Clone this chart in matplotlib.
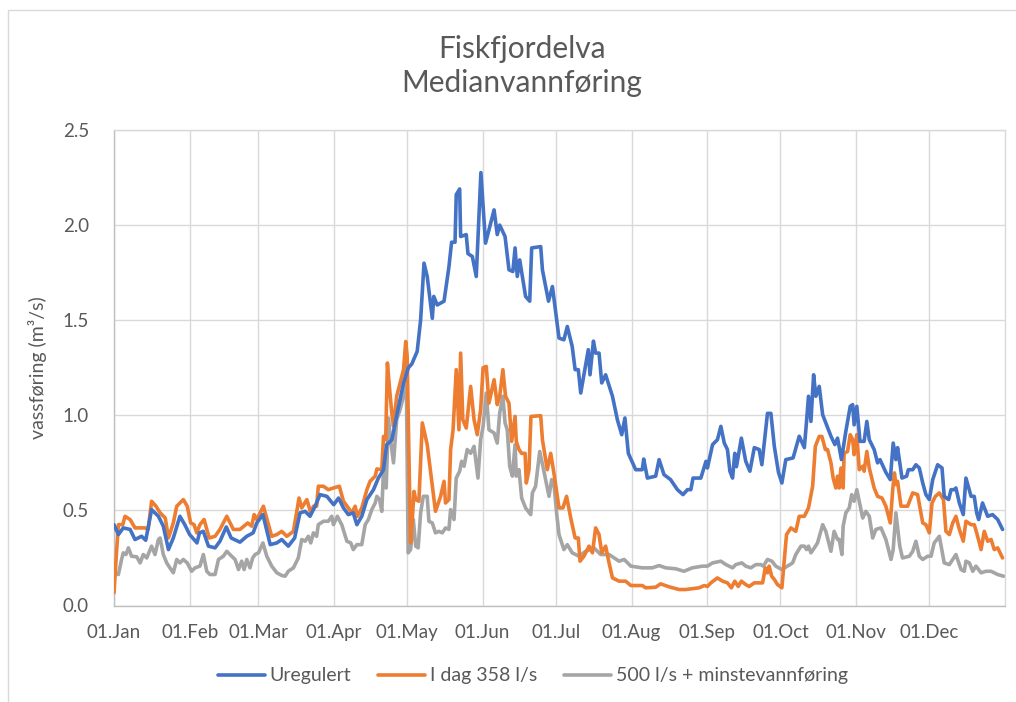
import matplotlib
matplotlib.use("Agg")
import matplotlib.pyplot as plt
from matplotlib.patches import Rectangle
import numpy as np

plt.rcParams['font.family'] = ['Lato', 'DejaVu Sans']

title = "Fiskfjordelva\nMedianvannføring"
ylabel = "vassføring (m³/s)"
month_days = [0, 31, 59, 90, 120, 151, 181, 212, 243, 273, 304, 334]
month_labels = ["01.Jan", "01.Feb", "01.Mar", "01.Apr", "01.May", "01.Jun",
                "01.Jul", "01.Aug", "01.Sep", "01.Oct", "01.Nov", "01.Dec"]
series_names = ["Uregulert", "I dag 358 l/s", "500 l/s + minstevannføring"]

# Uregulert (day of year, m3/s)
ureg_day = [0, 1.8, 3.8, 6.6, 8.6, 11.3, 13, 15.4, 18.2, 20.2, 22.3, 24.3, 27, 29, 31, 34, 35, 36.6, 38.7, 41.4,
            43.4, 46, 48, 51.6, 54.4, 57, 58.5, 61, 64, 66.7, 68.7, 71.4, 74, 76.2, 78.3, 80.3, 82.4, 84.4, 87.2, 90,
            92, 94, 96, 98, 99.5, 101.5, 103.6, 106.3, 108.3, 110.4, 111.7, 113.8, 116, 118.6, 120.6, 122, 124.2,
            125.6, 127, 128.3, 130.4, 131, 132.4, 135.2, 137.2, 138.3, 139.7, 140.2, 141.6, 142, 144.3, 145, 146.8,
            148.4, 150.3, 152.2, 153.6, 155.7, 157, 158, 160.2, 161.8, 163.4, 164.3, 165.2, 166.2, 168.6, 170.3,
            171.1, 174.8, 175.5, 178, 179.6, 182.3, 184.3, 185.7, 187.7, 188.9, 190.2, 191.2, 194.3, 195, 196.4,
            197.3, 198.7, 199.8, 201.4, 204.2, 206.2, 208, 209.3, 210.7, 213.7, 216.4, 217, 218.5, 221.9, 223.3,
            225.3, 228, 230.8, 233.1, 234.9, 236.3, 237.2, 240.4, 242.5, 243.1, 245.2, 247.2, 248.6, 250, 251.3,
            252.3, 253.4, 254.3, 255, 257, 258.8, 260.5, 262.3, 264.3, 265.4, 267.7, 269.1, 270.5, 272.2, 273.6,
            275.2, 278.2, 280.7, 282.8, 283.7, 284.5, 285.5, 286.6, 287.5, 288.9, 290.3, 291.6, 293.7, 295.3, 296.4,
            298, 299.8, 301.6, 302.6, 303.2, 304.3, 305.6, 307.3, 308.4, 309.4, 311.4, 312.8, 313.8, 316.2, 318,
            319.2, 320.3, 321, 322.8, 324.7, 325.4, 327.2, 328.5, 329.9, 331.3, 332.6, 334, 335.4, 337.4, 339.2,
            340.1, 341.9, 342.9, 344.2, 344.9, 346.3, 347.9, 349, 351.1, 352.4, 353.4, 354.2, 355.8, 357.9, 359.9,
            362, 364]
ureg_val = [0.425, 0.373, 0.408, 0.40, 0.347, 0.364, 0.343, 0.504, 0.469, 0.417, 0.294, 0.355, 0.469, 0.425, 0.373,
            0.329, 0.382, 0.39, 0.312, 0.303, 0.338, 0.413, 0.355, 0.333, 0.364, 0.382, 0.434, 0.478, 0.32, 0.329,
            0.347, 0.312, 0.355, 0.487, 0.495, 0.469, 0.522, 0.583, 0.574, 0.53, 0.565, 0.513, 0.478, 0.487, 0.425,
            0.469, 0.557, 0.609, 0.67, 0.714, 0.846, 0.87, 1.01, 1.17, 1.25, 1.27, 1.336, 1.50, 1.80, 1.73, 1.51,
            1.625, 1.58, 1.60, 1.78, 1.91, 1.91, 2.16, 2.19, 1.94, 1.95, 1.85, 1.835, 1.73, 2.276, 1.905, 1.975,
            2.08, 1.95, 2.0, 1.94, 1.765, 1.756, 1.88, 1.73, 1.817, 1.625, 1.60, 1.88, 1.887, 1.765, 1.60, 1.677,
            1.406, 1.397, 1.467, 1.362, 1.24, 1.24, 1.117, 1.345, 1.213, 1.39, 1.327, 1.327, 1.17, 1.213, 1.10,
            0.977, 0.898, 0.986, 0.80, 0.714, 0.714, 0.77, 0.67, 0.68, 0.767, 0.688, 0.662, 0.609, 0.583, 0.609,
            0.609, 0.67, 0.67, 0.758, 0.723, 0.846, 0.872, 0.942, 0.854, 0.82, 0.706, 0.67, 0.80, 0.73, 0.88, 0.758,
            0.706, 0.83, 0.82, 0.74, 1.01, 1.01, 0.837, 0.70, 0.644, 0.767, 0.776, 0.89, 0.83, 0.968, 1.10, 0.968,
            1.213, 1.10, 1.152, 1.003, 0.96, 0.89, 0.846, 0.88, 0.767, 0.916, 1.047, 1.056, 0.95, 1.047, 0.863,
            0.863, 0.968, 0.872, 0.82, 0.75, 0.767, 0.70, 0.662, 0.854, 0.767, 0.83, 0.67, 0.68, 0.714, 0.714, 0.74,
            0.723, 0.644, 0.583, 0.557, 0.662, 0.74, 0.723, 0.574, 0.557, 0.609, 0.609, 0.618, 0.539, 0.478, 0.67,
            0.574, 0.574, 0.487, 0.452, 0.539, 0.469, 0.478, 0.452, 0.40]

# I dag 358 l/s
idag_day = [0, 1.1, 1.8, 3.6, 4.5, 6.6, 8.6, 10.7, 12.7, 14, 15.4, 17.2, 18.9, 21, 22.3, 24.3, 25.7, 28.4, 30, 31.4,
            32.8, 33.9, 35.2, 36.9, 39, 41.4, 43.4, 46.2, 48.9, 51.6, 54.8, 56.4, 57.4, 58.5, 61.2, 64.6, 66.7, 68.7,
            70.8, 73.5, 75.8, 76.9, 79, 80.6, 81.7, 83, 83.7, 85.8, 87.8, 89.9, 92.3, 94, 96, 97.4, 98.8, 99.7,
            101.5, 103.6, 104.9, 107, 107.7, 109.7, 110.4, 111.3, 112, 112.8, 113.8, 114.5, 115.8, 117.9, 118.6,
            119.5, 120.1, 120.8, 121.5, 122.2, 122.9, 123.6, 124.9, 126.3, 128.3, 130.4, 131.7, 133.8, 135.2, 135.8,
            137.2, 137.9, 138.9, 140.2, 141.3, 142, 142.9, 144.3, 146.1, 147.5, 148.8, 150.2, 151.2, 152.5, 153.6,
            155.7, 157, 158, 159.3, 160.4, 161.8, 162.9, 164.3, 164.8, 165.9, 167, 168.4, 168.9, 170, 170.8, 174.8,
            175.5, 177.5, 178.9, 180.2, 182.3, 183.9, 185.4, 187.1, 188.9, 190.2, 190.9, 192.5, 194.6, 196, 197.3,
            198.7, 199.8, 201.4, 202.8, 204.2, 206.9, 209.6, 211.7, 216.4, 217.8, 221.9, 223.9, 227.4, 231.5,
            234.2, 239.7, 241.8, 243.1, 244.5, 247.2, 249.3, 251.3, 252.9, 254.3, 255.7, 257, 258.8, 260.2, 262.3,
            265.7, 266.8, 267.7, 268.4, 269.4, 270.5, 271.8, 273.6, 274.6, 275.5, 277.3, 279.3, 280.7, 282.8, 284.5,
            286.2, 287.3, 288.9, 290, 291.4, 292.3, 293.7, 294.6, 295.7, 296.4, 297.1, 297.8, 298.7, 299.1, 300.5,
            301.6, 302.6, 303.2, 304.3, 305.3, 306.7, 307.3, 308.4, 309.4, 311.4, 312.8, 314.6, 316.2, 318, 319,
            319.7, 320.3, 321, 322.4, 325.1, 327.2, 329.2, 331.3, 332.6, 334, 335.1, 336.5, 338.1, 339.8, 340.8,
            342.2, 343.6, 344.9, 346.3, 347.9, 349, 351.1, 352.4, 353.4, 355.2, 356.5, 357.9, 359.3, 360.6, 362, 364]
idag_val = [0.066, 0.294, 0.425, 0.425, 0.469, 0.452, 0.408, 0.408, 0.408, 0.40, 0.548, 0.522, 0.487, 0.46, 0.355,
            0.434, 0.522, 0.557, 0.522, 0.434, 0.425, 0.382, 0.425, 0.452, 0.355, 0.364, 0.40, 0.469, 0.40, 0.40,
            0.434, 0.417, 0.478, 0.452, 0.522, 0.364, 0.373, 0.39, 0.364, 0.39, 0.565, 0.513, 0.557, 0.487, 0.522,
            0.522, 0.627, 0.627, 0.609, 0.618, 0.627, 0.548, 0.513, 0.487, 0.522, 0.469, 0.513, 0.609, 0.653, 0.68,
            0.718, 0.714, 0.889, 0.872, 1.275, 1.152, 1.012, 0.942, 1.10, 1.204, 1.24, 1.388, 1.31, 0.80, 0.329,
            0.452, 0.60, 0.557, 0.548, 0.96, 0.846, 0.627, 0.495, 0.574, 0.653, 0.539, 0.557, 0.82, 0.924, 1.24,
            0.924, 1.327, 0.977, 0.933, 1.152, 0.977, 0.898, 1.03, 1.25, 1.257, 1.064, 1.187, 1.056, 1.10, 1.24,
            1.10, 1.064, 0.863, 0.994, 0.863, 0.82, 0.80, 0.80, 0.644, 0.714, 0.994, 0.998, 0.872, 0.714, 0.80,
            0.697, 0.513, 0.513, 0.574, 0.46, 0.355, 0.355, 0.233, 0.259, 0.312, 0.277, 0.408, 0.373, 0.277, 0.312,
            0.224, 0.145, 0.128, 0.128, 0.105, 0.105, 0.093, 0.096, 0.114, 0.098, 0.084, 0.084, 0.093, 0.105, 0.10,
            0.119, 0.145, 0.128, 0.119, 0.093, 0.128, 0.10, 0.128, 0.11, 0.10, 0.119, 0.119, 0.198, 0.172, 0.207,
            0.154, 0.137, 0.11, 0.093, 0.242, 0.373, 0.408, 0.39, 0.469, 0.469, 0.513, 0.627, 0.837, 0.889, 0.889,
            0.82, 0.82, 0.75, 0.67, 0.618, 0.68, 0.618, 0.723, 0.618, 0.80, 0.81, 0.898, 0.872, 0.793, 0.898, 0.714,
            0.732, 0.706, 0.81, 0.723, 0.618, 0.574, 0.565, 0.522, 0.434, 0.609, 0.697, 0.636, 0.653, 0.522, 0.522,
            0.592, 0.583, 0.434, 0.425, 0.382, 0.539, 0.574, 0.592, 0.557, 0.39, 0.373, 0.434, 0.469, 0.40, 0.338,
            0.443, 0.425, 0.425, 0.382, 0.294, 0.39, 0.338, 0.347, 0.294, 0.303, 0.25]

# 500 l/s + minstevannføring
alt_day = [0, 1.8, 3.1, 3.8, 4.9, 5.9, 7.2, 9.3, 10.7, 12, 13.4, 15.4, 16.8, 18.2, 18.9, 20.2, 21.6, 22.9, 24.3,
           25.7, 27, 28.4, 30, 31.8, 33.2, 35.2, 36.6, 38, 39.3, 41.4, 42.8, 44.8, 46.2, 48.2, 49.6, 51, 52.3, 53.3,
           54.4, 55.7, 56.8, 57.8, 59.2, 61, 62.6, 64.6, 66.7, 68.7, 70.1, 71.4, 73.5, 75.5, 76.9, 78.3, 79.6, 80.6,
           81.7, 83, 83.7, 85.8, 87.8, 89.2, 89.9, 91.5, 93.3, 95.4, 97, 98, 99.5, 101.5, 102.9, 104.2, 105.6, 107,
           107.7, 108.8, 109.7, 110.4, 111.5, 112.4, 113.3, 114.5, 115.8, 117.2, 118.6, 119.7, 120.5, 121.5, 122.6,
           123.6, 124.6, 125.6, 126.7, 128.3, 129, 130.4, 131.7, 133.1, 134.5, 135.8, 137.2, 137.9, 139.3, 140.2,
           141.6, 142.4, 143.4, 144.7, 146.1, 147.5, 149.1, 150.2, 151.2, 152.5, 153.6, 155.7, 157, 158, 159.3,
           160.2, 161.1, 162.1, 163.2, 164.3, 164.8, 165.9, 167, 168.6, 170.7, 171.4, 172.7, 174.4, 175.7, 176.8,
           178.2, 179.3, 180.2, 181.3, 182.3, 184.3, 185.7, 187.7, 190.5, 193.2, 196.6, 199.4, 202.8, 206.9, 209,
           211.7, 216.4, 220.5, 223.3, 226, 230.1, 233.5, 236.9, 241.1, 243.1, 245.2, 248.6, 250.7, 253.4, 254.7,
           257.2, 258.8, 260.9, 262.9, 265, 266, 267.7, 269.5, 271.1, 273.6, 275.9, 278, 279.3, 281.4, 282.8, 283.7,
           284.5, 285.5, 286.9, 288.2, 290.3, 291.6, 293.7, 295, 296.4, 297.1, 298.2, 298.7, 299.8, 301.2, 302.2,
           303.2, 304.3, 305.3, 306.7, 308, 309.4, 310.8, 312.1, 314.2, 316.2, 318.3, 319.2, 320.3, 321.9, 323,
           325.8, 327.2, 328.5, 329.9, 331.3, 333.3, 334.7, 336, 338.1, 340.1, 342.2, 343.6, 344.9, 347, 348.3, 349,
           350.4, 351.8, 353.1, 355.2, 357.2, 359.3, 362, 364.4]
alt_val = [0.172, 0.163, 0.242, 0.277, 0.268, 0.303, 0.259, 0.256, 0.224, 0.268, 0.25, 0.312, 0.268, 0.347, 0.355,
           0.268, 0.224, 0.198, 0.172, 0.242, 0.224, 0.242, 0.224, 0.18, 0.198, 0.207, 0.268, 0.18, 0.163, 0.163,
           0.242, 0.259, 0.285, 0.259, 0.242, 0.189, 0.233, 0.189, 0.242, 0.198, 0.25, 0.268, 0.277, 0.329, 0.259,
           0.207, 0.172, 0.158, 0.154, 0.18, 0.198, 0.25, 0.347, 0.338, 0.364, 0.329, 0.382, 0.364, 0.425, 0.443,
           0.443, 0.469, 0.425, 0.469, 0.425, 0.338, 0.329, 0.294, 0.32, 0.32, 0.425, 0.452, 0.504, 0.539, 0.574,
           0.557, 0.495, 0.714, 0.618, 0.986, 0.872, 0.75, 0.977, 1.03, 1.10, 1.25, 0.277, 0.294, 0.452, 0.312,
           0.303, 0.487, 0.574, 0.574, 0.443, 0.434, 0.382, 0.39, 0.382, 0.408, 0.40, 0.504, 0.452, 0.67, 0.706,
           0.758, 0.732, 0.82, 0.80, 0.837, 0.67, 0.872, 0.942, 1.117, 0.924, 0.907, 0.854, 1.012, 1.10, 0.96,
           0.924, 0.732, 0.68, 0.846, 0.68, 0.714, 0.565, 0.513, 0.478, 0.592, 0.627, 0.81, 0.732, 0.662, 0.574,
           0.662, 0.644, 0.487, 0.373, 0.294, 0.32, 0.277, 0.259, 0.285, 0.303, 0.268, 0.268, 0.233, 0.242, 0.207,
           0.198, 0.198, 0.21, 0.198, 0.193, 0.18, 0.198, 0.207, 0.207, 0.224, 0.233, 0.215, 0.198, 0.215, 0.224,
           0.207, 0.198, 0.215, 0.215, 0.207, 0.242, 0.233, 0.207, 0.189, 0.207, 0.224, 0.268, 0.312, 0.312, 0.294,
           0.312, 0.277, 0.303, 0.329, 0.425, 0.39, 0.285, 0.39, 0.347, 0.347, 0.268, 0.417, 0.487, 0.513, 0.583,
           0.548, 0.609, 0.548, 0.46, 0.495, 0.469, 0.355, 0.40, 0.408, 0.347, 0.242, 0.294, 0.487, 0.312, 0.25,
           0.259, 0.285, 0.338, 0.259, 0.242, 0.259, 0.259, 0.329, 0.364, 0.224, 0.215, 0.242, 0.268, 0.189, 0.18,
           0.233, 0.224, 0.18, 0.207, 0.172, 0.18, 0.18, 0.163, 0.154]

colors = ["#4472C4", "#ED7D31", "#A5A5A5"]
text_color = "#595959"
grid_color = "#D9D9D9"

W, H = 1016, 702
fig = plt.figure(figsize=(W / 100, H / 100), dpi=100)
ax = fig.add_axes([114 / W, 1 - 605.5 / H, (1005 - 114) / W, (605.5 - 130) / H])

series = [(ureg_day, ureg_val), (idag_day, idag_val), (alt_day, alt_val)]
# draw grey first, then orange, then blue on top
for idx in [2, 1, 0]:
    d, v = series[idx]
    ax.plot(d, v, color=colors[idx], lw=2.6, label=series_names[idx],
            solid_joinstyle='round', solid_capstyle='round', zorder=3 + (2 - idx))

ax.set_xlim(0, 365)
ax.set_ylim(0, 2.5)
ax.set_yticks(np.arange(0, 2.51, 0.5))
ax.set_yticklabels([f"{t:.1f}" for t in np.arange(0, 2.51, 0.5)])
ax.set_xticks(month_days)
ax.set_xticklabels(month_labels)
ax.grid(True, color=grid_color, lw=1.0, zorder=0)
ax.set_axisbelow(True)
for s in ['top', 'right']:
    ax.spines[s].set_color(grid_color)
    ax.spines[s].set_linewidth(1.0)
for s in ['left', 'bottom']:
    ax.spines[s].set_color("#BFBFBF")
    ax.spines[s].set_linewidth(1.0)
ax.tick_params(axis='both', length=0, colors=text_color, labelsize=13.5)
ax.tick_params(axis='y', pad=18)
ax.tick_params(axis='x', pad=13)

ax.set_ylabel(ylabel, color=text_color, fontsize=14, labelpad=11)

fig.text(522 / W, 1 - 66 / H, title, ha='center', va='center', color=text_color,
         fontsize=21.5, linespacing=1.22)

handles, labels = ax.get_legend_handles_labels()
order = [labels.index(n) for n in series_names]
leg = fig.legend([handles[i] for i in order], [labels[i] for i in order],
                 loc='center', bbox_to_anchor=(533 / W, 1 - 676 / H), ncol=3, frameon=False,
                 fontsize=14, handlelength=2.4, handletextpad=0.25, columnspacing=1.4)
for t in leg.get_texts():
    t.set_color(text_color)

fig.add_artist(Rectangle((8 / W, -0.1), 1.2, 1.1 - 10 / H, transform=fig.transFigure,
                         fill=False, edgecolor=grid_color, lw=1.0))

fig.savefig("out.png", dpi=100)
